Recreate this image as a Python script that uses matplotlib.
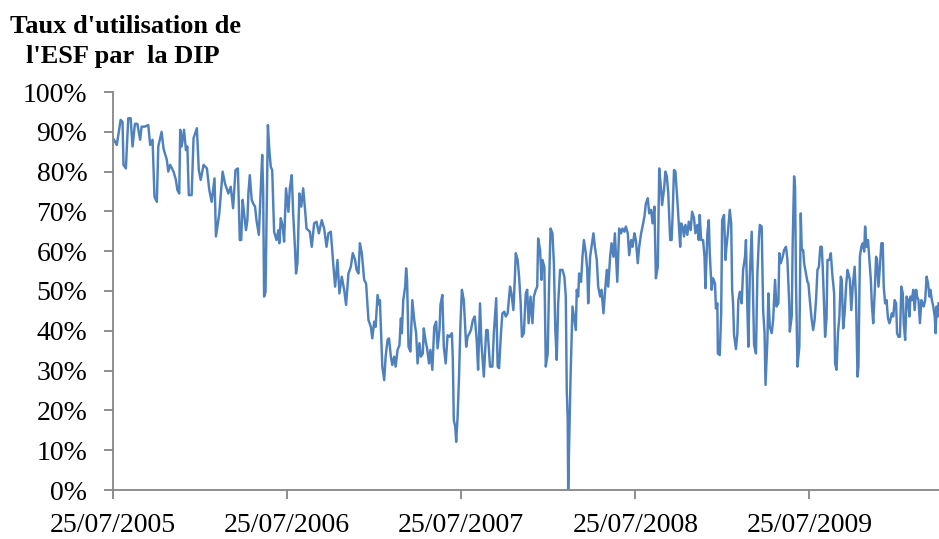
import numpy as np
import pandas as pd
import matplotlib
matplotlib.use("Agg")
import matplotlib.pyplot as plt
import matplotlib.dates as mdates
from matplotlib.ticker import PercentFormatter

plt.rcParams["font.family"] = ["Liberation Serif", "DejaVu Serif"]

# series start date, observations given as days after the start
start_date = "2005-07-25"

day_offset = [
    2, 8, 11, 16, 20, 22, 27, 32, 37, 41, 46, 51, 57, 60, 67, 74, 78, 83, 87, 92,
    95, 102, 106, 113, 116, 120, 127, 132, 135, 139, 141, 144, 149, 153, 156, 159, 165, 169, 176, 180,
    184, 190, 197, 202, 207, 213, 216, 223, 230, 235, 242, 247, 252, 257, 262, 266,
    269, 272, 275, 279, 282, 284, 287, 291, 294, 298, 301, 306, 310, 313, 315, 317, 320, 325, 328, 331,
    334, 338, 343, 347, 349, 352, 356, 359, 363, 368, 371, 375, 378, 382, 384, 387, 391, 395, 399, 403,
    406, 413, 417, 422, 427, 432, 438, 443, 448, 452, 457, 462, 466, 471, 475, 480, 485, 489, 494, 499,
    503, 508, 511, 515, 518, 522, 527, 531, 536, 541, 544, 548, 551, 555, 559,
    560, 562, 565, 569, 572, 576, 579, 583, 586, 590, 593, 597, 601, 604, 606, 609, 613, 615, 617, 620,
    624, 628, 632, 636, 639, 643, 646, 650, 652, 656, 659, 663, 666, 670, 674, 678, 681, 685, 687, 691,
    694, 698, 702, 706, 711, 713, 715, 718, 720, 723, 726, 729, 732, 736, 741, 744, 748, 751, 755, 759,
    763, 766, 770, 773, 778, 783, 786, 791, 796, 799, 804, 807, 810, 814, 817, 821, 824, 828, 833, 836,
    840, 843, 845, 849, 852,
    855, 858, 862, 866, 869, 872, 876, 880, 883, 887, 890, 892, 896, 899, 901, 905, 908, 912, 915, 918,
    922, 925, 928, 931, 934, 938, 943, 947, 950, 952, 954, 955, 957, 960, 964, 967, 971, 973, 976, 978,
    982, 985, 988, 992, 995, 997, 1001, 1004, 1008, 1011, 1015, 1018, 1022, 1025, 1029, 1032, 1036, 1039, 1043, 1046,
    1050, 1053, 1058, 1062, 1066, 1069, 1073, 1076, 1080, 1083, 1087, 1090, 1094, 1097, 1101, 1104, 1108, 1111, 1115, 1118,
    1122, 1125, 1129, 1132, 1136, 1139, 1143, 1146,
    1150, 1152, 1156, 1159, 1162, 1165, 1169, 1172, 1174, 1177, 1180, 1184, 1187, 1190, 1192, 1195, 1198, 1201, 1205, 1208,
    1212, 1215, 1219, 1222, 1226, 1229, 1231, 1234, 1238, 1241, 1243, 1247, 1250, 1252, 1256, 1259, 1263, 1265, 1268, 1269,
    1273, 1276, 1278, 1282, 1285, 1287, 1290, 1294, 1297, 1299, 1301, 1303, 1307, 1310, 1312, 1315, 1319, 1322, 1326, 1328,
    1331, 1333, 1336, 1340, 1342, 1345, 1349, 1352, 1355, 1357, 1361, 1364, 1367, 1369, 1373, 1375, 1378, 1382, 1385, 1389,
    1392, 1396, 1398, 1401, 1405, 1408, 1412, 1415, 1419, 1420, 1424, 1426, 1429, 1431, 1433, 1436, 1440,
    1443, 1445, 1448, 1450, 1454, 1457, 1459, 1462, 1466, 1469, 1472, 1475, 1478, 1481, 1484, 1487, 1489, 1492, 1494, 1497,
    1499, 1503, 1506, 1509, 1513, 1515, 1518, 1521, 1524, 1527, 1529, 1532, 1535, 1538, 1541, 1543, 1546, 1549, 1552, 1556,
    1559, 1562, 1564, 1567, 1570, 1573, 1576, 1578, 1581, 1584, 1587, 1590, 1592, 1595, 1598, 1601, 1603, 1606, 1609, 1612,
    1615, 1617, 1620, 1623, 1626, 1629, 1631, 1634, 1637, 1640, 1643, 1645, 1648, 1651, 1654, 1657, 1659, 1662, 1665, 1668,
    1671, 1673, 1676, 1679, 1682, 1685, 1687, 1690, 1693, 1696, 1699, 1701, 1704, 1707, 1710, 1713, 1715, 1718, 1721, 1724,
    1726, 1728, 1730, 1732,
]

usage_pct = [
    88, 86.7, 89, 93, 92.5, 81.7, 80.8, 93.4, 93.4, 86.3, 92, 92, 88, 91.3, 91.3, 91.7, 86.7, 88, 73.7, 72.4,
    86.3, 90, 85.8, 82.9, 80, 81.7, 80, 77.9, 75.4, 74.5, 90.5, 86.3, 90.5, 85.4, 86.3, 74.1, 74.1, 88.4, 90.9, 80.4,
    77.9, 81.7, 80.8, 75.4, 72.4, 78.3, 63.7, 69.5, 80, 77, 74.5, 76.2, 70.8, 80.4, 80.8, 62.8,
    62.8, 72.9, 69.5, 65.3, 67.8, 74.5, 79.1, 72.9, 72, 71.2, 67.8, 64.1, 75.4, 84.2, 75.4, 48.6, 49.8, 91.7, 85.4, 81.2,
    80.4, 64.9, 62.8, 65.3, 62, 68.3, 66.2, 62.4, 75.8, 69.9, 75.8, 79.1, 69.5, 60.3, 54.4, 57, 74.5, 71.2, 75.8, 70.4,
    65.7, 64.9, 61.1, 67, 67.4, 64.5, 67.8, 65.7, 61.1, 64.5, 64.9, 57, 51.1, 57.8, 49.4, 53.6, 50.3, 46.5, 54.4, 56.1,
    59.5, 57.8, 55.3, 54.4, 62, 59.5, 52.8, 51.9, 42.7, 41, 38.1, 42.3, 41, 49, 46.5,
    47.7, 41, 31, 27.6, 33.5, 37.7, 38.1, 33.5, 31.4, 33.5, 31, 35.2, 36.4, 43.1, 39.4, 47.7, 51.1, 55.7, 52.8, 36,
    34.8, 47.7, 42.7, 39.4, 31.8, 36.9, 33.5, 34.3, 40.6, 37.3, 35.6, 31.8, 35.2, 30.2, 41, 42.3, 35.6, 40.2, 46.5, 49,
    36, 31.8, 38.9, 38.5, 39.4, 32.7, 17.6, 15.9, 12.1, 18.4, 28.5, 41.9, 50.3, 47.7, 36, 38.5, 39.4, 40.2, 42.7, 43.6,
    37.7, 30.2, 46.9, 36.9, 28.5, 40.2, 40.2, 31, 31, 39.4, 48.2, 31, 30.6, 39.4, 44.4, 44.8, 43.6, 44.4, 51.1, 49.4,
    45.2, 52.8, 59.5, 57.8, 53.6,
    47.7, 38.5, 39.4, 49.4, 50.3, 41.9, 48.6, 41.9, 48.6, 50.3, 51.1, 63.2, 60.3, 52.8, 57.8, 56.1, 31, 34.3, 51.9, 65.7,
    64.5, 57, 40.2, 32.7, 46.9, 55.3, 55.3, 53.6, 48.6, 25.1, 17.6, 0, 10.9, 28.5, 46.1, 43.6, 40.2, 50.3, 48.6, 54.4,
    52.3, 58.6, 62.8, 59.5, 55.3, 46.9, 58.6, 61.1, 64.5, 61.1, 57.8, 51.1, 48.6, 50.3, 44.4, 49.4, 55.3, 51.1, 58.6, 62,
    58.6, 64.5, 52.3, 65.7, 64.5, 65.7, 64.9, 66.2, 64.5, 59, 62.8, 61.1, 64.5, 62.8, 57, 61.1, 64.5, 66.2, 68.7, 72,
    73.3, 69.5, 70.4, 67, 71.2, 53.2, 56.1, 80.8,
    75.4, 71.6, 75.4, 80, 78.8, 74.5, 62.8, 62.8, 68.7, 80.4, 80, 72.9, 67, 61.1, 67, 66.2, 63.7, 66.6, 64.1, 67.4,
    65.3, 69.9, 68.3, 64.5, 66.6, 62.8, 69.1, 62.8, 62.8, 58.6, 50.7, 64.5, 67.8, 59.5, 50.3, 53.2, 51.9, 45.6, 46.9, 34.3,
    33.9, 44.4, 67.8, 69.1, 57.8, 61.1, 64.5, 70.4, 67, 50.3, 46.9, 38.9, 35.4, 39.4, 47.7, 49.8, 46.9, 55.3, 58.6, 62.8,
    45.2, 36, 53.6, 64.9, 54.4, 36.4, 34.3, 54.4, 62.8, 66.6, 66.2, 45.2, 39.4, 26.4, 37.7, 49.4, 41, 39.4, 42.7, 52.8,
    46.1, 46.9, 59.5, 57, 58.6, 60.3, 61.1, 57.8, 46.1, 39.8, 43.6, 62, 78.8, 76.2, 51.9, 31, 36,
    69.5, 60.3, 60.3, 57, 54.4, 52.3, 51.9, 47.7, 42.7, 40.2, 42.7, 47.7, 55.3, 56.1, 61.1, 61.1, 56.1, 46.1, 38.5, 43.1,
    57.8, 57.8, 59.5, 54.4, 49.4, 31.8, 30.2, 39.4, 43.6, 53.6, 52.8, 40.6, 44.4, 51.1, 55.3, 54.4, 52.8, 45.2, 51.1, 56.1,
    47.7, 28.5, 31, 58.6, 61.1, 62, 59.9, 66.2, 61.1, 62.8, 57.8, 52.8, 46.9, 41.9, 49.4, 58.6, 57.8, 51.1, 56.1, 62,
    62, 51.1, 46.9, 47.7, 43.1, 41.9, 42.7, 44.4, 43.6, 47.7, 46.9, 39.4, 38.5, 38.5, 51.1, 49.4, 41.9, 37.7, 48.6, 47.7,
    43.6, 48.6, 47.7, 50.3, 45.2, 50.3, 48.6, 47.7, 41.9, 47.7, 46.9, 46.1, 47.7, 53.6, 51.9, 48.6, 50.3, 47.7, 46.1, 43.6,
    39.4, 46.1, 43.6, 46.9,
]

tick_labels = ["25/07/2005", "25/07/2006", "25/07/2007", "25/07/2008", "25/07/2009"]
title_lines = ["Taux d'utilisation de", "l'ESF par  la DIP"]

start = pd.Timestamp(start_date)
dates = start + pd.to_timedelta(day_offset, unit="D")
values = np.array(usage_pct) / 100.0

fig = plt.figure(figsize=(9.39, 5.39), dpi=100)
ax = fig.add_axes([113 / 939, 49 / 539, 826 / 939, 398 / 539])

ax.plot(dates, values, color="#4F81BD", linewidth=1.75)

ax.set_ylim(0, 1)
ax.set_yticks(np.arange(0, 1.01, 0.1))
ax.yaxis.set_major_formatter(PercentFormatter(1.0, decimals=0))

ax.set_xlim(start, start + pd.Timedelta(days=1733))
ax.set_xticks(pd.to_datetime(tick_labels, format="%d/%m/%Y"))
ax.xaxis.set_major_formatter(mdates.DateFormatter("%d/%m/%Y"))

axis_grey = "#868686"
for side in ["top", "right"]:
    ax.spines[side].set_visible(False)
for side in ["left", "bottom"]:
    ax.spines[side].set_color(axis_grey)
    ax.spines[side].set_linewidth(1.3)

ax.tick_params(axis="both", direction="out", length=6.5, width=1.3,
               color=axis_grey, labelsize=20, labelcolor="black")
ax.tick_params(axis="y", pad=12)
ax.tick_params(axis="x", pad=10)

fig.text(126 / 939, 1 - 33 / 539, title_lines[0], ha="center", va="baseline",
         fontsize=19, fontweight="bold")
fig.text(123 / 939, 1 - 63 / 539, title_lines[1], ha="center", va="baseline",
         fontsize=19, fontweight="bold")

fig.savefig("out.png", dpi=100)
